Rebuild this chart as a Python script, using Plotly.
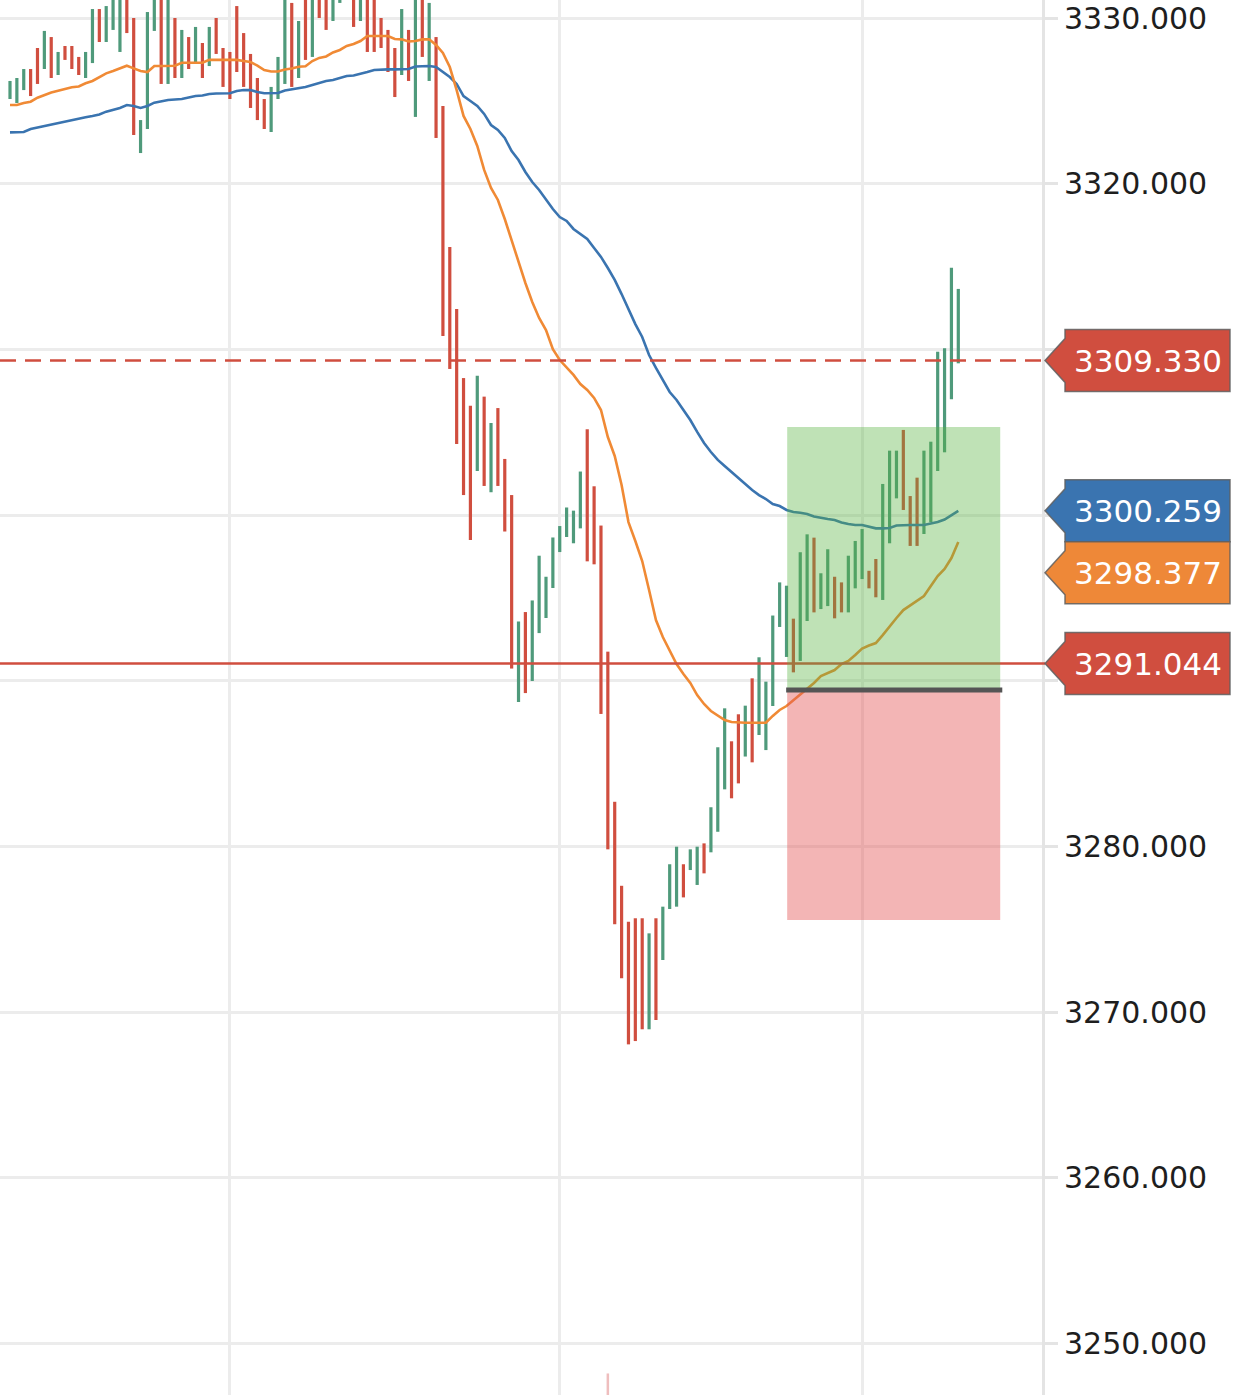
import plotly.graph_objects as go

# ---------------- data ----------------
highs = [3326.20, 3326.38, 3326.92, 3326.92, 3328.19, 3329.22, 3328.85, 3327.95, 3328.31, 3328.31,
         3327.65, 3327.95, 3330.54, 3330.54, 3330.72, 3331.60, 3331.50, 3332.00, 3330.00, 3323.84,
         3330.36, 3331.80, 3332.20, 3331.70, 3330.00, 3329.28, 3328.85, 3329.46, 3328.49, 3329.46,
         3330.00, 3328.19, 3327.95, 3330.72, 3329.09, 3327.83, 3326.38, 3325.11, 3325.84, 3327.65,
         3331.40, 3330.91, 3329.82, 3331.90, 3332.20, 3332.50, 3332.30, 3332.60, 3332.80, 3333.20,
         3332.60, 3332.00, 3332.40, 3332.00, 3330.00, 3329.28, 3328.19, 3330.54, 3329.28, 3331.50,
         3331.60, 3330.91, 3328.85, 3324.69, 3316.18, 3312.44, 3308.27, 3306.60, 3308.41, 3307.15,
         3305.56, 3306.46, 3303.39, 3301.21, 3293.58, 3294.15, 3294.85, 3297.55, 3296.28, 3298.65,
         3299.34, 3300.46, 3300.27, 3302.63, 3305.18, 3301.74, 3299.37, 3291.76, 3282.70, 3277.63,
         3275.46, 3275.67, 3275.67, 3274.76, 3275.67, 3276.37, 3278.93, 3279.99, 3278.93, 3279.83,
         3279.99, 3280.19, 3282.37, 3285.99, 3288.34, 3286.35, 3287.98, 3288.50, 3290.15, 3291.42,
         3289.95, 3293.94, 3295.94, 3295.74, 3293.75, 3297.76, 3298.84, 3298.64, 3296.49, 3297.94,
         3296.28, 3295.94, 3297.55, 3298.44, 3299.16, 3296.64, 3297.35, 3301.88, 3303.89, 3303.89,
         3305.14, 3301.15, 3302.26, 3303.89, 3304.43, 3309.86, 3310.07, 3314.93, 3313.65]

lows = [3325.11, 3324.87, 3325.65, 3325.29, 3326.02, 3326.92, 3326.38, 3326.56, 3327.47, 3326.92,
        3326.56, 3326.38, 3327.28, 3328.55, 3328.55, 3329.28, 3327.95, 3329.09, 3322.94, 3321.85,
        3323.30, 3329.22, 3326.02, 3326.02, 3326.38, 3326.38, 3326.92, 3327.28, 3326.38, 3327.10,
        3327.83, 3325.84, 3325.11, 3326.74, 3325.84, 3324.57, 3323.84, 3323.30, 3323.12, 3325.11,
        3326.02, 3325.84, 3326.38, 3327.47, 3327.65, 3330.00, 3329.28, 3329.82, 3330.91, 3331.30,
        3329.46, 3329.82, 3327.95, 3327.95, 3328.19, 3326.74, 3325.23, 3326.56, 3326.20, 3324.03,
        3327.65, 3326.20, 3322.76, 3310.81, 3308.82, 3304.29, 3301.21, 3298.50, 3302.66, 3301.76,
        3301.38, 3301.76, 3299.01, 3290.74, 3288.72, 3289.26, 3289.99, 3292.88, 3293.79, 3295.60,
        3297.77, 3298.68, 3298.30, 3299.20, 3297.21, 3297.03, 3288.00, 3279.83, 3275.31, 3272.05,
        3268.06, 3268.26, 3268.97, 3268.97, 3269.53, 3273.15, 3276.23, 3276.37, 3276.93, 3278.58,
        3277.68, 3278.38, 3279.65, 3280.89, 3283.45, 3282.91, 3283.81, 3285.43, 3285.08, 3286.73,
        3285.82, 3288.48, 3293.25, 3291.44, 3290.51, 3291.20, 3293.61, 3294.13, 3294.33, 3294.51,
        3293.77, 3294.13, 3294.13, 3295.58, 3296.14, 3295.58, 3295.04, 3294.88, 3298.30, 3301.01,
        3300.31, 3298.14, 3298.14, 3298.86, 3299.57, 3302.66, 3303.79, 3306.99, 3309.16]

# 'G' = up bar, 'R' = down bar
direction = list("GGGRRGRGRRRGGRGGGRRGGGRGRGRGRGRRRRRRRRGGGRGRGRRGGGRGRRRRRGRGRGRRRRRRGRGRRRGRGGGGGGGGRRRRRRRRRGRGGGRGGRGGGRRGRGGGGGRGGRGGRRGGGRRGGGRRRGGGGGGGR")

ma_fast = [3324.75, 3324.75, 3324.87, 3324.95, 3325.19, 3325.35, 3325.50, 3325.61, 3325.72, 3325.82,
           3325.87, 3326.06, 3326.20, 3326.41, 3326.66, 3326.80, 3326.95, 3327.12, 3326.96, 3326.80,
           3326.74, 3327.10, 3327.10, 3327.10, 3327.12, 3327.30, 3327.30, 3327.30, 3327.30, 3327.47,
           3327.47, 3327.47, 3327.47, 3327.47, 3327.40, 3327.34, 3327.13, 3326.86, 3326.77, 3326.77,
           3326.89, 3326.95, 3327.06, 3327.09, 3327.40, 3327.59, 3327.68, 3327.92, 3328.07, 3328.31,
           3328.43, 3328.61, 3328.91, 3328.91, 3328.91, 3328.91, 3328.73, 3328.71, 3328.58, 3328.61,
           3328.71, 3328.71, 3328.37, 3327.89, 3327.04, 3325.65, 3324.09, 3323.30, 3322.28, 3320.83,
           3319.74, 3319.02, 3317.87, 3316.54, 3315.27, 3314.01, 3312.86, 3311.90, 3311.17, 3310.02,
           3309.36, 3308.94, 3308.46, 3307.91, 3307.55, 3307.07, 3306.34, 3304.71, 3303.57, 3301.82,
           3299.58, 3298.44, 3297.23, 3295.48, 3293.67, 3292.64, 3291.86, 3291.01, 3290.41, 3289.87,
           3289.14, 3288.60, 3288.18, 3287.88, 3287.63, 3287.51, 3287.47, 3287.47, 3287.47, 3287.47,
           3287.47, 3287.88, 3288.24, 3288.48, 3288.84, 3289.14, 3289.50, 3289.87, 3290.29, 3290.47,
           3290.65, 3291.01, 3291.20, 3291.56, 3291.95, 3292.13, 3292.28, 3292.76, 3293.31, 3293.79,
           3294.27, 3294.57, 3294.82, 3295.12, 3295.72, 3296.32, 3296.75, 3297.41, 3298.377]

ma_slow = [3323.10, 3323.10, 3323.12, 3323.30, 3323.39, 3323.48, 3323.60, 3323.66, 3323.75, 3323.87,
           3323.93, 3324.01, 3324.09, 3324.18, 3324.35, 3324.45, 3324.57, 3324.75, 3324.69, 3324.57,
           3324.69, 3324.89, 3324.99, 3325.05, 3325.08, 3325.11, 3325.20, 3325.29, 3325.32, 3325.41,
           3325.44, 3325.46, 3325.46, 3325.59, 3325.65, 3325.65, 3325.53, 3325.46, 3325.46, 3325.47,
           3325.62, 3325.69, 3325.78, 3325.84, 3325.96, 3326.08, 3326.20, 3326.26, 3326.38, 3326.50,
           3326.53, 3326.62, 3326.74, 3326.86, 3326.90, 3326.90, 3326.90, 3326.90, 3326.92, 3327.07,
           3327.10, 3327.10, 3327.04, 3326.74, 3326.44, 3326.02, 3325.29, 3324.99, 3324.69, 3324.21,
           3323.54, 3323.24, 3322.76, 3321.97, 3321.43, 3320.71, 3320.10, 3319.62, 3319.02, 3318.47,
           3317.99, 3317.75, 3317.27, 3316.96, 3316.66, 3316.12, 3315.58, 3314.91, 3314.19, 3313.34,
           3312.38, 3311.53, 3310.75, 3309.66, 3308.88, 3308.15, 3307.43, 3306.95, 3306.34, 3305.74,
           3305.02, 3304.35, 3303.81, 3303.33, 3302.96, 3302.60, 3302.24, 3301.82, 3301.51, 3301.21,
           3300.97, 3300.67, 3300.55, 3300.31, 3300.19, 3300.14, 3300.07, 3299.92, 3299.83, 3299.76,
           3299.70, 3299.55, 3299.46, 3299.40, 3299.40, 3299.28, 3299.20, 3299.20, 3299.22, 3299.37,
           3299.40, 3299.40, 3299.40, 3299.40, 3299.49, 3299.58, 3299.73, 3300.01, 3300.259]

last_price = 3309.330
alert_level = 3291.044
pos_entry = 3289.44
pos_target = 3305.32
pos_stop = 3275.56
pos_start_bar = 113.1
pos_end_bar = 144.1
event_bar = 87
y_ticks = [3250, 3260, 3270, 3280, 3290, 3300, 3310, 3320, 3330]
# labels hidden behind the price tags in the reference
y_tick_text = ["3250.000", "3260.000", "3270.000", "3280.000", "", "", "", "3320.000", "3330.000"]
x_grid_bars = [32, 80, 124]

# ---------------- styling ----------------
UP = "#4f9a7b"
DOWN = "#d04e3f"
FAST = "#f08a35"
SLOW = "#3a74b0"
Y_MIN, Y_MAX = 3246.90, 3331.086
X_MIN, X_MAX = -1.455, 150.18
W, H = 1242, 1395
PLOT_W = 1042
FONT = "DejaVu Sans"

n = len(highs)
idx = list(range(n))

def bar_segments(side):
    xs, ys = [], []
    for i in idx:
        if direction[i] == side:
            xs += [i, i, None]
            ys += [lows[i], highs[i], None]
    return xs, ys

fig = go.Figure()
for side, col in (("G", UP), ("R", DOWN)):
    xs, ys = bar_segments(side)
    fig.add_trace(go.Scatter(x=xs, y=ys, mode="lines", line=dict(color=col, width=3.2),
                             hoverinfo="skip", connectgaps=False))

fig.add_trace(go.Scatter(x=idx, y=ma_slow, mode="lines", line=dict(color=SLOW, width=2.6)))
fig.add_trace(go.Scatter(x=idx, y=ma_fast, mode="lines", line=dict(color=FAST, width=2.6)))

shapes = []
# horizontal price lines
shapes.append(dict(type="line", xref="paper", yref="y", x0=0, x1=1.003, y0=last_price, y1=last_price,
                   line=dict(color=DOWN, width=2.6, dash="16px,9px"), layer="above"))
shapes.append(dict(type="line", xref="paper", yref="y", x0=0, x1=1.003, y0=alert_level, y1=alert_level,
                   line=dict(color=DOWN, width=2.5), layer="above"))
# position tool
shapes.append(dict(type="rect", xref="x", yref="y", x0=pos_start_bar, x1=pos_end_bar,
                   y0=pos_entry, y1=pos_target, fillcolor="rgba(86,178,62,0.38)",
                   line=dict(width=0), layer="above"))
shapes.append(dict(type="rect", xref="x", yref="y", x0=pos_start_bar, x1=pos_end_bar,
                   y0=pos_stop, y1=pos_entry, fillcolor="rgba(228,86,86,0.44)",
                   line=dict(width=0), layer="above"))
shapes.append(dict(type="line", xref="x", yref="y", x0=pos_start_bar - 0.15, x1=pos_end_bar + 0.3,
                   y0=pos_entry, y1=pos_entry, line=dict(color="#555555", width=5), layer="above"))
# faint marker at the bottom
shapes.append(dict(type="line", xref="x", yref="y", x0=event_bar, x1=event_bar, y0=Y_MIN, y1=3248.2,
                   line=dict(color="rgba(220,110,110,0.45)", width=2.5), layer="above"))

# price tags on the right scale
unit_per_px = (Y_MAX - Y_MIN) / H
def py(v):
    return (v - Y_MIN) / (Y_MAX - Y_MIN)
def px(p):
    return p / PLOT_W

tag_h = 62 * unit_per_px
tags = [(last_price, DOWN), (ma_slow[-1], SLOW), (ma_fast[-1], "#ee8838"), (alert_level, DOWN)]
annotations = []
placed = []
for val, col in sorted(tags, key=lambda t: -t[0]):
    c = val
    for pc in placed:
        if abs(pc - c) < tag_h:
            c = pc - tag_h
    placed.append(c)
    top, bot = c + tag_h / 2, c - tag_h / 2
    d = 22 * unit_per_px
    path = (f"M {px(1045)},{py(c)} L {px(1065)},{py(c + d)} L {px(1065)},{py(top)} "
            f"L {px(1230)},{py(top)} L {px(1230)},{py(bot)} L {px(1065)},{py(bot)} "
            f"L {px(1065)},{py(c - d)} Z")
    shapes.append(dict(type="path", xref="paper", yref="paper", path=path, fillcolor=col,
                       line=dict(color="rgba(95,95,95,0.85)", width=1.5), layer="above"))
    annotations.append(dict(xref="paper", yref="paper", x=px(1148), y=py(c), text=f"{val:.3f}",
                            showarrow=False, xanchor="center", yanchor="middle",
                            font=dict(family=FONT, size=31, color="white")))

fig.update_layout(
    width=W, height=H,
    margin=dict(l=0, r=W - PLOT_W, t=0, b=0),
    plot_bgcolor="white", paper_bgcolor="white",
    showlegend=False,
    shapes=shapes, annotations=annotations,
    xaxis=dict(range=[X_MIN, X_MAX], tickvals=x_grid_bars, showticklabels=False, ticks="",
               showgrid=True, gridcolor="#ececec", gridwidth=2.5, zeroline=False, showline=False),
    yaxis=dict(range=[Y_MIN, Y_MAX], side="right", tickvals=y_ticks, ticktext=y_tick_text,
               showgrid=True, gridcolor="#ececec", gridwidth=2.5, zeroline=False,
               ticks="outside", ticklen=13, tickwidth=2.5, tickcolor="#e4e4e4",
               showline=True, linecolor="#e4e4e4", linewidth=3,
               tickfont=dict(family=FONT, size=30, color="#1e1e1e"), ticklabelstandoff=0),
)

fig.write_html("out.html", config={"displayModeBar": False},
               post_script="document.body.style.margin='0';document.body.style.overflow='hidden';")
